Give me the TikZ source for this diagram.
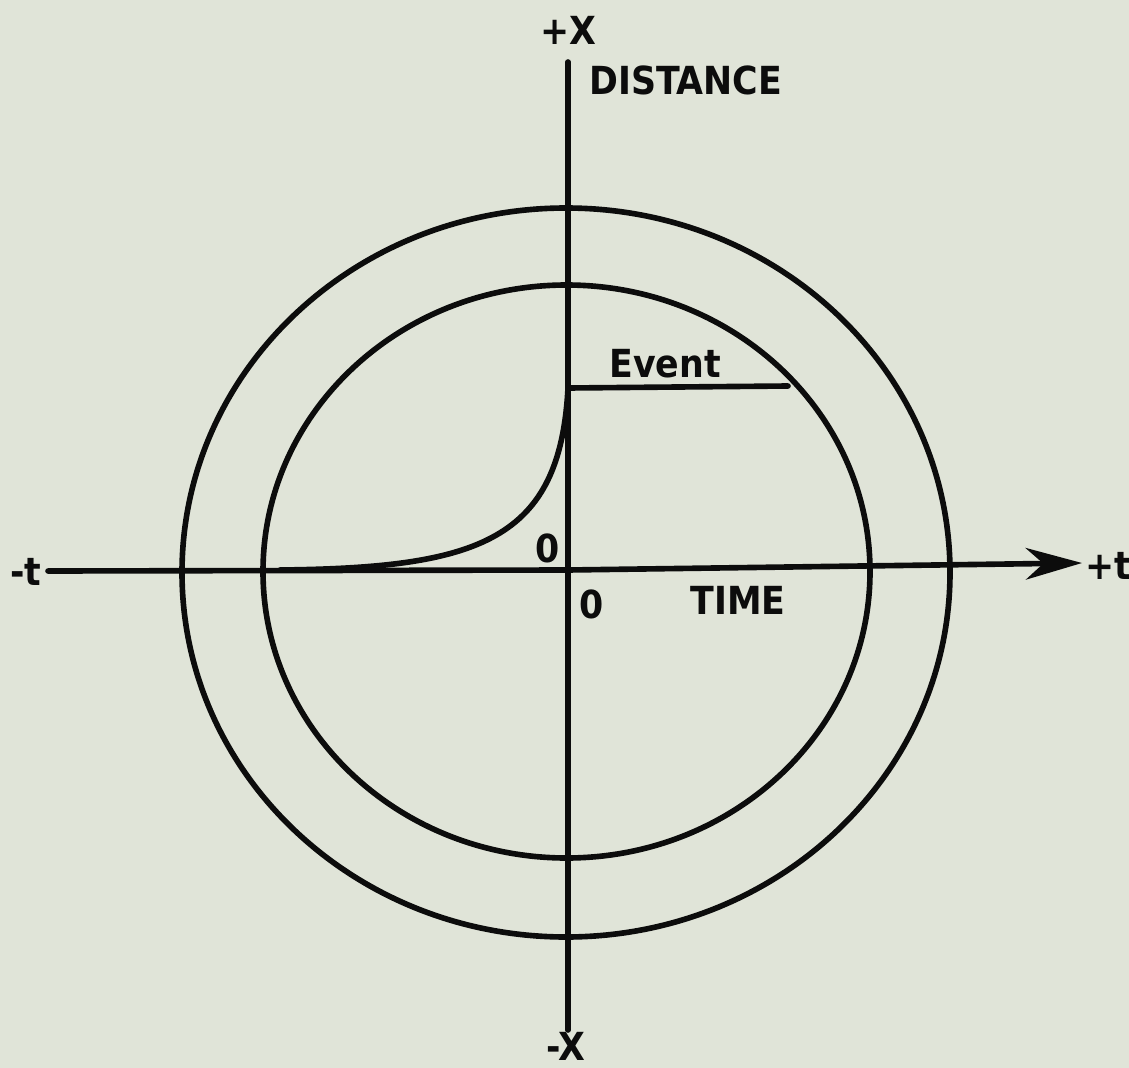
\documentclass[tikz,border=0pt]{standalone}
\usepackage{fontspec}
\setmainfont{DejaVu Sans Condensed}
\usetikzlibrary{arrows.meta}
\definecolor{paper}{RGB}{224,228,216}
\definecolor{ink}{RGB}{12,12,12}
\begin{document}
\begin{tikzpicture}[x=0.02cm,y=-0.02cm,
  ln/.style={draw=ink,line width=3.2pt,line cap=round},
  lbl/.style={text=ink,font=\bfseries\fontsize{22}{26}\selectfont,inner sep=0pt}]
\fill[paper] (0,0) rectangle (1129,1068);
\useasboundingbox (0,0) rectangle (1129,1068);
% coordinates
\coordinate (tl) at (48,571);
\coordinate (o) at (568,570);
\coordinate (tr) at (1082,563);
\coordinate (xt) at (568,62);
\coordinate (xb) at (568,1030);
\coordinate (ev) at (568,388);
\coordinate (eve) at (788,386);
\coordinate (cs) at (280,570);
% circles
\draw[ln] (566,572.5) ellipse [x radius=384, y radius=364.5];
\draw[ln] (566.5,571.5) ellipse [x radius=303.5, y radius=286.5];
% axes
\draw[ln] (xt) -- (xb);
\draw[ln,-{Stealth[length=32pt,width=18pt,inset=10pt]}] (tl) -- (o) -- (tr);
% event line
\draw[ln] (ev) -- (eve);
% curve
\draw[ln] (cs) .. controls (480,568) and (560,540) .. (ev);
% labels
\node[lbl] (lmt) at (26,572) {-t};
\node[lbl] (lpt) at (1108,566) {+t};
\node[lbl] (lpx) at (568,30) {+X};
\node[lbl] (lmx) at (566,1046) {-X};
\node[lbl,anchor=west] (ldist) at (589,80) {DISTANCE};
\node[lbl,anchor=west] (levent) at (609,364) {Event};
\node[lbl] (lz1) at (548,548) {0};
\node[lbl] (lz2) at (592,604) {0};
\node[lbl,anchor=west] (ltime) at (690,600) {TIME};
\end{tikzpicture}
\end{document}
